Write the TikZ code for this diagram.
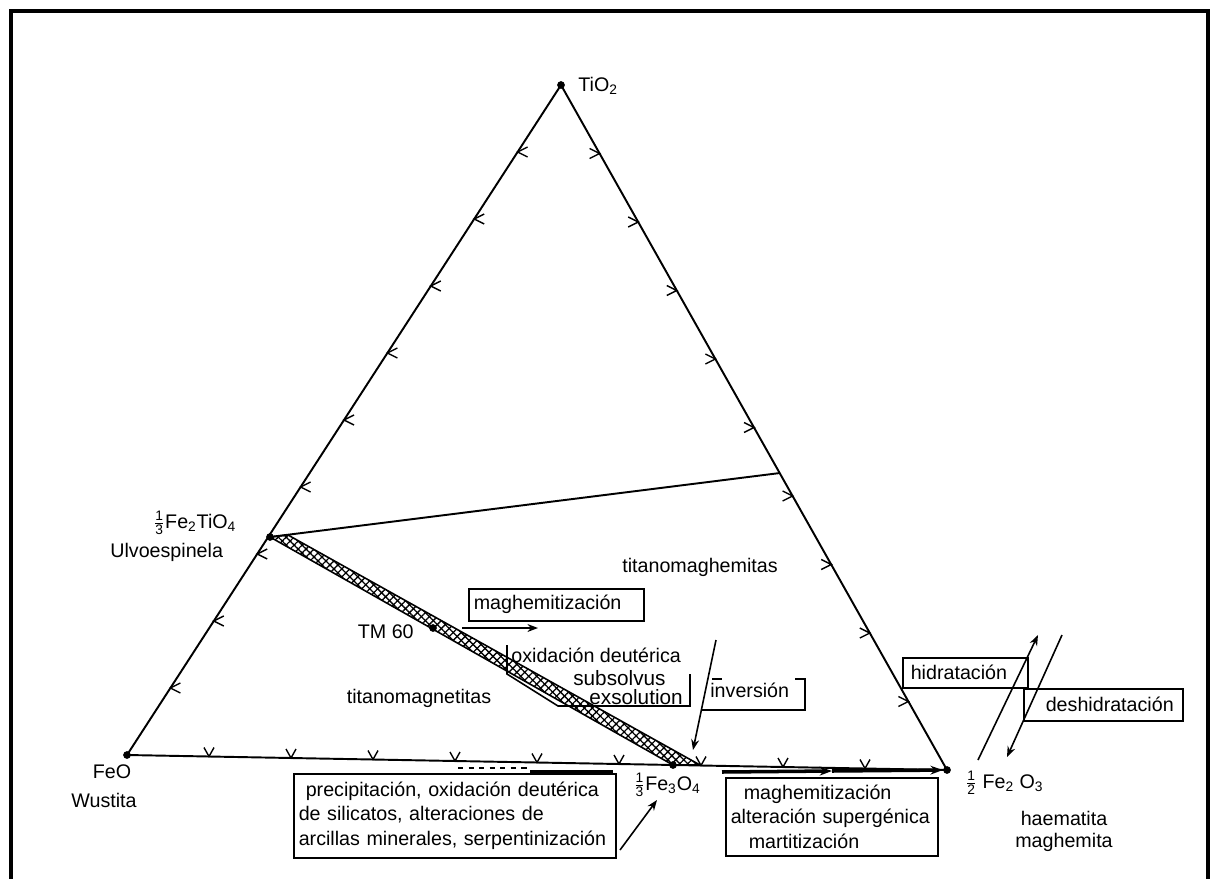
\documentclass[tikz,border=0pt]{standalone}
\usepackage{fontspec}
\setmainfont{Liberation Sans}
\usepackage{amsmath}
\usetikzlibrary{arrows.meta,patterns.meta,backgrounds}
\newcommand{\fthird}{\ensuremath{\tfrac{\text{1}}{\text{3}}}}
\newcommand{\fhalf}{\ensuremath{\tfrac{\text{1}}{\text{2}}}}
\begin{document}
\begin{tikzpicture}[x=0.02cm,y=-0.02cm,
  font=\fontsize{11.2}{13.7}\selectfont,
  edge/.style={line width=1.1pt},
  dot/.style={circle,fill=black,inner sep=0pt,minimum size=4.4pt},
  tick/.style={line width=0.8pt},
  box/.style={draw,line width=0.9pt,inner sep=0pt},
  lbl/.style={inner sep=0pt},
  arr/.style={line width=0.9pt,-{Stealth[length=6pt,width=4.5pt]}},
  thickarr/.style={line width=2pt,-{Stealth[length=7pt,width=5pt]}},
  bigfont/.style={font=\fontsize{11.8}{13}\selectfont},
]
\useasboundingbox (0,0) rectangle (1214,879);
\draw[line width=2.4pt] (11,890) -- (11,11) -- (1208,11) -- (1208,890);

% vertices
\node[dot] (tio2) at (561,85) {};
\node[dot] (feo) at (127,755) {};
\node[dot] (fe2o3) at (947,770) {};
\node[dot] (ulvo) at (270,537) {};
\node[dot] (fe3o4) at (673,765) {};
\node[dot] (tm60) at (433,628) {};
\coordinate (rp) at (780,473);
\coordinate (bandA) at (288,535);
\coordinate (bandB) at (700,765);

\begin{pgfonlayer}{background}
\fill[pattern={Lines[angle=45,distance=3.2pt,line width=0.75pt]}] (ulvo.center) -- (bandA) -- (bandB) -- (fe3o4.center) -- cycle;
\fill[pattern={Lines[angle=-45,distance=3.2pt,line width=0.75pt]}] (ulvo.center) -- (bandA) -- (bandB) -- (fe3o4.center) -- cycle;
\draw[line width=0.9pt] (ulvo.center) -- (bandA) -- (bandB) -- (fe3o4.center) -- cycle;
\draw[edge] (tio2.center) -- (feo.center) -- (fe2o3.center) -- cycle;
\draw[edge] (ulvo.center) -- (rp);
\foreach \i in {1,...,9}{
  \pgfmathsetmacro\lx{561-43.4*\i}\pgfmathsetmacro\ly{85+67*\i}
  \draw[tick] (\lx+10,\ly-5) -- (\lx,\ly) -- (\lx+10,\ly+5);
  \pgfmathsetmacro\rx{561+38.6*\i}\pgfmathsetmacro\ry{85+68.5*\i}
  \draw[tick] (\rx-10,\ry-5) -- (\rx,\ry) -- (\rx-10,\ry+5);
  \pgfmathsetmacro\bx{127+82*\i}\pgfmathsetmacro\by{755+1.5*\i}
  \draw[tick] (\bx-5,\by-9) -- (\bx,\by) -- (\bx+5,\by-9);
}
\end{pgfonlayer}

% labels
\node[lbl,anchor=west] (tio2l) at (578,86) {TiO\textsubscript{2}};
\node[lbl,anchor=west] (ulvol) at (153,523) {\fthird Fe\textsubscript{2}TiO\textsubscript{4}};
\node[lbl,anchor=west] (ulvon) at (110,552) {Ulvoespinela};
\node[lbl,anchor=east] (tm60l) at (414,632) {TM 60};
\node[lbl] (tmag) at (419,698) {titanomagnetitas};
\node[lbl] (tmgh) at (700,567) {titanomaghemitas};
\node[lbl] (feol) at (112,772) {FeO};
\node[lbl] (wus) at (104,800) {Wustita};
\node[lbl] (fe3o4l) at (667,785) {\fthird Fe\textsubscript{3}O\textsubscript{4}};
\node[lbl,anchor=west] (fe2o3l) at (965,783) {\fhalf\ Fe\textsubscript{2} O\textsubscript{3}};
\node[lbl] (haem) at (1064,818) {haematita};
\node[lbl] (maghm) at (1064,842) {maghemita};

% process boxes
\node[box,anchor=north west,minimum width=3.5cm,minimum height=0.64cm,text width=3.3cm,inner xsep=0.1cm,align=left] (mag1) at (468,588) {maghemitización};
\node[lbl,anchor=west] (oxd) at (511,655) {oxidación deutérica};
\node[lbl,anchor=west,bigfont] (subs) at (573,678) {subsolvus};
\node[lbl,anchor=west,bigfont] (exso) at (589,697) {exsolution};
\draw[line width=0.9pt] (507,645) -- (507,674) -- (558,706) -- (690,706) -- (690,674);
\node[lbl,anchor=west] (inv) at (710,690) {inversión};
\draw[line width=0.9pt] (795,679) -- (805,679) -- (805,710) -- (702,710);
\draw[line width=0.9pt] (712,679) -- (722,679);
\node[box,anchor=north west,minimum width=2.5cm,minimum height=0.6cm,text width=2.18cm,inner xsep=0.16cm,align=left] (hid) at (902,657) {hidratación};
\node[box,anchor=north west,minimum width=3.18cm,minimum height=0.64cm,text width=2.82cm,inner xsep=0.18cm,align=right] (deshid) at (1023,688) {deshidratación};
\node[box,anchor=north west,minimum width=6.44cm,minimum height=1.68cm,text width=6.24cm,inner xsep=0.1cm,align=left] (prec) at (293,773) {\hspace*{0.14cm}precipitación, oxidación deutérica\\de silicatos, alteraciones de\\arcillas minerales, serpentinización};
\node[box,anchor=north west,minimum width=4.24cm,minimum height=1.56cm,text width=4.04cm,inner xsep=0.1cm,align=left] (mag2) at (725,777) {\hspace*{0.26cm}maghemitización\\alteración supergénica\\\hspace*{0.36cm}martitización};

% arrows
\coordinate (a1s) at (462,628); \coordinate (a1e) at (538,628);
\draw[arr] (a1s) -- (a1e);
\coordinate (invs) at (716,640); \coordinate (inve) at (693,750);
\draw[arr] (invs) -- (inve);
\coordinate (precs) at (620,850); \coordinate (prece) at (657,800);
\draw[arr] (precs) -- (prece);
\coordinate (hyds) at (978,760); \coordinate (hyde) at (1038,635);
\draw[arr] (hyds) -- (hyde);
\coordinate (dhys) at (1062,635); \coordinate (dhye) at (1007,757);
\draw[arr] (dhys) -- (dhye);
\coordinate (m2s) at (722,772); \coordinate (m2m) at (832,771);
\draw[thickarr] (m2s) -- (m2m);
\draw[thickarr] (m2m) -- (fe2o3);
\coordinate (p1s) at (530,772); \coordinate (p1e) at (613,772);
\draw[line width=2pt] (p1s) -- (p1e);
\coordinate (d1s) at (458,768); \coordinate (d1e) at (527,768);
\draw[line width=1pt,dash pattern=on 3pt off 3pt] (d1s) -- (d1e);
\end{tikzpicture}
\end{document}
